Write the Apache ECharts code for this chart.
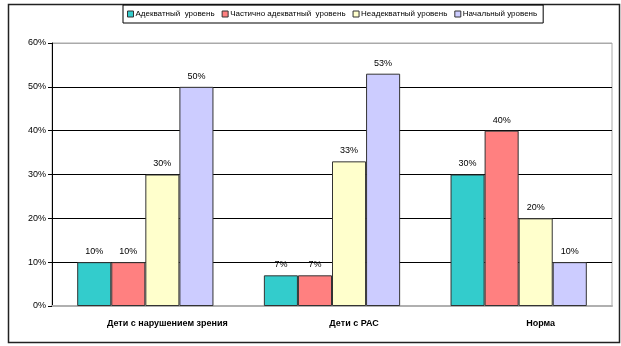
<!DOCTYPE html>
<html><head><meta charset="utf-8">
<script src="https://cdn.jsdelivr.net/npm/echarts@6/dist/echarts.min.js"></script>
<style>html,body{margin:0;padding:0;background:#fff}#c{width:621px;height:346px}</style>
</head><body><div id="c"></div>
<script>
const categories = ['Дети с нарушением зрения', 'Дети с РАС', 'Норма'];
const seriesNames = ['Адекватный  уровень', 'Частично адекватный  уровень', 'Неадекватный уровень', 'Начальный уровень'];
const adequate = [10, 7, 30];
const partial = [10, 7, 40];
const inadequate = [30, 33, 20];
const initial = [50, 53, 10];
const colors = ['#33CCCC', '#FF8080', '#FFFFCC', '#CCCCFF'];
const FONT = '"Liberation Sans", Arial, sans-serif';

const dataSets = [adequate, partial, inadequate, initial];
const chart = echarts.init(document.getElementById('c'));
chart.setOption({
  animation: false,
  backgroundColor: '#fff',
  graphic: [{
    type: 'rect', left: 6, top: 2, shape: {width: 611, height: 338},
    style: {fill: 'none', stroke: '#222', lineWidth: 1.5}, z: -1
  }],
  legend: {
    top: 5, left: 123,
    itemWidth: 6, itemHeight: 6, itemGap: 7,
    icon: 'rect',
    borderColor: '#000', borderWidth: 1,
    padding: [5, 6, 5, 4],
    itemStyle: {borderColor: '#333', borderWidth: 1},
    textStyle: {fontFamily: FONT, fontSize: 8, color: '#000', padding: [0, 0, 0, -3]},
    data: seriesNames
  },
  grid: {left: 52, right: 9, top: 43, bottom: 40, show: true, borderColor: '#aaa', borderWidth: 1},
  xAxis: {
    type: 'category', data: categories,
    axisLine: {lineStyle: {color: '#b0b0b0', width: 2}},
    axisTick: {show: false},
    axisLabel: {fontFamily: FONT, fontSize: 9, fontWeight: 'bold', color: '#000', margin: 13, padding: [0, 0, 0, 44]}
  },
  yAxis: {
    type: 'value', min: 0, max: 60, interval: 10,
    axisLine: {show: true, lineStyle: {color: '#000'}},
    axisTick: {show: true, length: 4, lineStyle: {color: '#000'}},
    axisLabel: {fontFamily: FONT, fontSize: 9, color: '#000', formatter: '{value}%', margin: 6},
    splitLine: {lineStyle: {color: ['#b0b0b0', '#000', '#000', '#000', '#000', '#000', '#aaa'], width: 1}}
  },
  series: dataSets.map((d, i) => ({
    name: seriesNames[i], type: 'bar', data: d,
    barGap: '0%', barCategoryGap: '27%',
    itemStyle: {color: colors[i], borderColor: '#333', borderWidth: 1},
    label: {show: true, position: 'top', distance: 6, formatter: '{c}%', fontFamily: FONT, fontSize: 9, color: '#000'}
  }))
});
</script></body></html>
